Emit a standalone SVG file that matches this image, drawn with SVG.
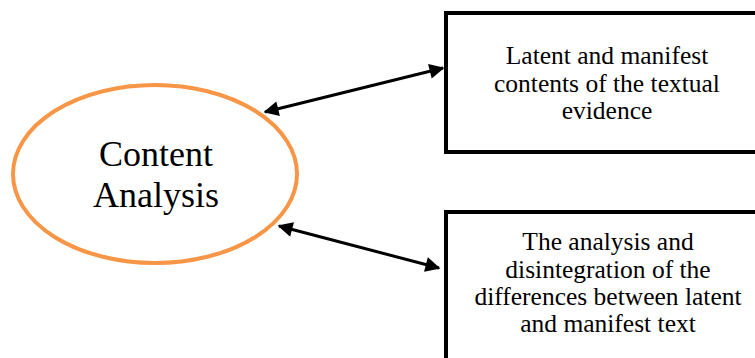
<svg xmlns="http://www.w3.org/2000/svg" width="755" height="358" viewBox="0 0 755 358">
<style>
.t{fill:#000;text-anchor:middle}
.box{fill:#fff;stroke:#000;stroke-width:4}
.lbl{font-size:25.5px}
.conn{stroke:#000;stroke-width:3;fill:none;marker-start:url(#ah);marker-end:url(#ah)}
</style>
<defs>
<marker id="ah" viewBox="0 0 10 10" refX="9" refY="5" markerWidth="5.5" markerHeight="5" orient="auto-start-reverse" markerUnits="strokeWidth">
<path d="M0,0 L10,5 L0,10 z" fill="#000"/>
</marker>
</defs>
<rect width="755" height="358" fill="#fff"/>
<g id="content-analysis" font-family="Liberation Serif, Times New Roman, serif">
<ellipse cx="155" cy="174" rx="142" ry="89" fill="#fff" stroke="#F79646" stroke-width="4"/>
<text class="t" x="156" y="166" font-size="36">Content</text>
<text class="t" x="156" y="207" font-size="36">Analysis</text>
</g>
<g id="latent-manifest" font-family="Liberation Serif, Times New Roman, serif">
<rect class="box" x="446" y="13" width="312" height="139"/>
<text class="t lbl" x="607" y="64">Latent and manifest</text>
<text class="t lbl" x="607" y="91.5">contents of the textual</text>
<text class="t lbl" x="607" y="118.5">evidence</text>
</g>
<g id="analysis-disintegration" font-family="Liberation Serif, Times New Roman, serif">
<rect class="box" x="446" y="212" width="312" height="150"/>
<text class="t lbl" x="608" y="250">The analysis and</text>
<text class="t lbl" x="608" y="277.5">disintegration of the</text>
<text class="t lbl" x="608" y="305">differences between latent</text>
<text class="t lbl" x="608" y="332">and manifest text</text>
</g>
<g id="connectors">
<line class="conn" x1="265" y1="112" x2="443" y2="68"/>
<line class="conn" x1="279" y1="226" x2="439" y2="268"/>
</g>
</svg>
